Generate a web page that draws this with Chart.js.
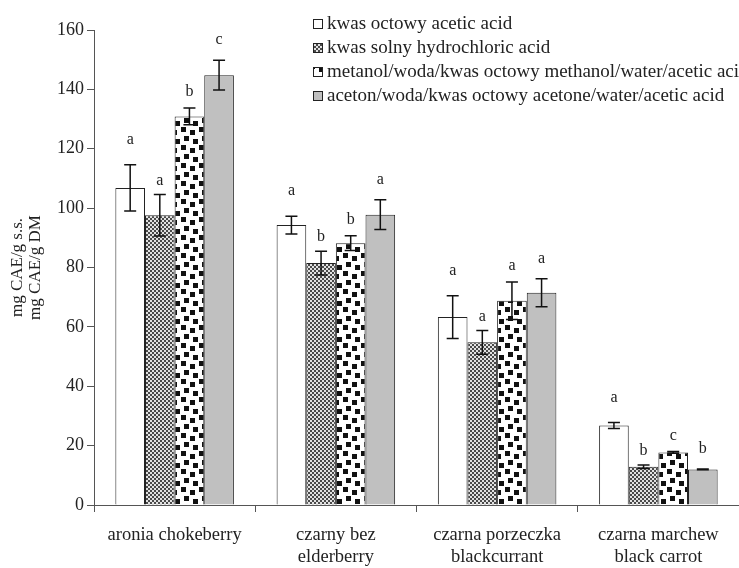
<!DOCTYPE html>
<html>
<head>
<meta charset="utf-8">
<script src="https://cdn.jsdelivr.net/npm/chart.js@4.4.1/dist/chart.umd.min.js"></script>
<style>
  html, body { margin: 0; padding: 0; background: #fff; }
  #wrap { width: 739px; height: 568px; }
</style>
</head>
<body>
<div id="wrap"><canvas id="chart" width="739" height="568"></canvas></div>
<script>
const categories = ['aronia chokeberry', ['czarny bez', 'elderberry'], ['czarna porzeczka', 'blackcurrant'], ['czarna marchew', 'black carrot']];
const seriesNames = [
  'kwas octowy acetic acid',
  'kwas solny hydrochloric acid',
  'metanol/woda/kwas octowy methanol/water/acetic acid',
  'aceton/woda/kwas octowy acetone/water/acetic acid'
];
const aceticValues = [106.8, 94.3, 63.3, 26.8];
const hclValues = [97.6, 81.5, 54.8, 12.9];
const methanolValues = [130.9, 88.2, 68.8, 17.7];
const acetoneValues = [144.8, 97.8, 71.5, 12.0];
const aceticErr = [7.8, 3.0, 7.2, 1.0];
const hclErr = [7.0, 4.0, 4.0, 0.6];
const methanolErr = [2.8, 2.5, 6.3, 0.3];
const acetoneErr = [5.0, 5.0, 4.7, 0.1];
const aceticLetters = ['a', 'a', 'a', 'a'];
const hclLetters = ['a', 'b', 'a', 'b'];
const methanolLetters = ['b', 'b', 'a', 'c'];
const acetoneLetters = ['c', 'a', 'a', 'b'];
const yTicks = [0, 20, 40, 60, 80, 100, 120, 140, 160];

const serif = '"Liberation Serif", "DejaVu Serif", serif';
const ctx = document.getElementById('chart').getContext('2d');

function checkerPattern() {
  const c = document.createElement('canvas');
  c.width = 4; c.height = 4;
  const g = c.getContext('2d');
  g.fillStyle = '#e2e2e2';
  g.fillRect(0, 0, 4, 4);
  g.fillStyle = '#4a4a4a';
  g.fillRect(0, 0, 2, 2);
  g.fillRect(2, 2, 2, 2);
  return ctx.createPattern(c, 'repeat');
}

function dotPattern() {
  const c = document.createElement('canvas');
  c.width = 18; c.height = 18;
  const g = c.getContext('2d');
  g.fillStyle = '#fff';
  g.fillRect(0, 0, 18, 18);
  g.fillStyle = '#111';
  [[1, 1], [10, 4], [4, 10], [13, 13]].forEach(p => g.fillRect(p[0], p[1], 5, 5));
  return ctx.createPattern(c, 'repeat');
}

const fills = ['#ffffff', checkerPattern(), dotPattern(), '#c0c0c0'];
const labelGap = [25, 14, 16, 20];

const errorBars = {
  id: 'errorBars',
  afterDatasetsDraw(chart) {
    const y = chart.scales.y;
    const c = chart.ctx;
    c.save();
    chart.data.datasets.forEach((ds, i) => {
      const meta = chart.getDatasetMeta(i);
      meta.data.forEach((bar, j) => {
        const v = ds.data[j], e = ds.errors[j];
        const top = y.getPixelForValue(v + e);
        const bot = y.getPixelForValue(v - e);
        c.strokeStyle = '#111';
        c.lineWidth = 1.5;
        c.beginPath();
        c.moveTo(bar.x, top); c.lineTo(bar.x, bot);
        c.moveTo(bar.x - 6, top); c.lineTo(bar.x + 6, top);
        c.moveTo(bar.x - 6, bot); c.lineTo(bar.x + 6, bot);
        c.stroke();
        c.fillStyle = '#222';
        c.font = '16px ' + serif;
        c.textAlign = 'center';
        c.textBaseline = 'middle';
        c.fillText(ds.letters[j], bar.x, top - labelGap[i]);
      });
    });
    c.restore();
  }
};

const boxLegend = {
  id: 'boxLegend',
  afterDraw(chart) {
    const c = chart.ctx;
    c.save();
    c.font = '19px ' + serif;
    c.textBaseline = 'middle';
    c.textAlign = 'left';
    chart.data.datasets.forEach((ds, i) => {
      const yy = 24 + i * 24;
      c.fillStyle = fills[i];
      c.fillRect(313, yy - 5, 10, 10);
      c.strokeStyle = '#222';
      c.lineWidth = 1;
      c.strokeRect(313.5, yy - 4.5, 9, 9);
      c.fillStyle = '#222';
      c.fillText(ds.label, 327, yy);
    });
    c.restore();
  }
};

const valueSets = [aceticValues, hclValues, methanolValues, acetoneValues];
const errSets = [aceticErr, hclErr, methanolErr, acetoneErr];
const letterSets = [aceticLetters, hclLetters, methanolLetters, acetoneLetters];

new Chart(ctx, {
  type: 'bar',
  data: {
    labels: categories,
    datasets: seriesNames.map((name, i) => ({
      label: name,
      data: valueSets[i],
      errors: errSets[i],
      letters: letterSets[i],
      backgroundColor: fills[i],
      borderColor: '#222',
      borderWidth: 1,
      categoryPercentage: 0.735,
      barPercentage: 1
    }))
  },
  options: {
    responsive: false,
    animation: false,
    layout: { padding: { top: 30, right: 0, bottom: 0, left: 9 } },
    plugins: {
      legend: { display: false },
      tooltip: { enabled: false }
    },
    scales: {
      x: {
        grid: { offset: true, drawOnChartArea: false, tickLength: 7, color: '#555' },
        border: { color: '#555', width: 1 },
        ticks: { color: '#222', font: { family: serif, size: 18.5 }, padding: 12, maxRotation: 0, autoSkip: false },
        afterFit(scale) { scale.height = 63; }
      },
      y: {
        min: 0,
        max: 160,
        afterBuildTicks(scale) { scale.ticks = yTicks.map(v => ({ value: v })); },
        grid: { drawOnChartArea: false, tickLength: 7, color: '#555' },
        border: { color: '#555', width: 1 },
        ticks: { color: '#222', font: { family: serif, size: 18 }, padding: 3 },
        title: {
          display: true,
          text: ['mg CAE/g s.s.', 'mg CAE/g DM'],
          color: '#222',
          font: { family: serif, size: 17, lineHeight: 1.05 },
          padding: 0
        },
        afterFit(scale) { scale.width = 85; }
      }
    }
  },
  plugins: [errorBars, boxLegend]
});
</script>
</body>
</html>
